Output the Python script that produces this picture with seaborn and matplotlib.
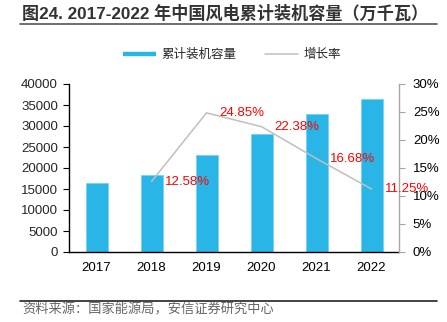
import matplotlib
matplotlib.use("Agg")
import matplotlib.pyplot as plt
from matplotlib.lines import Line2D
from matplotlib.ticker import FuncFormatter, FixedLocator
import seaborn as sns
import pandas as pd

# Cumulative installed wind power capacity in China (10,000 kW)
years = ["2017", "2018", "2019", "2020", "2021", "2022"]
capacity = [16367, 18426, 23005, 28153, 32848, 36544]
# Year-on-year growth (%)
rate_years = ["2018", "2019", "2020", "2021", "2022"]
rates = [12.58, 24.85, 22.38, 16.68, 11.25]

title = "图24. 2017-2022 年中国风电累计装机容量（万千瓦）"
bar_label = "累计装机容量"
line_label = "增长率"
source = "资料来源：国家能源局，安信证券研究中心"

BAR_COLOR = "#29B6E6"
LINE_COLOR = "#BFBFBF"

sns.set_theme(style="white")
plt.rcParams["font.family"] = ["Liberation Sans", "Noto Sans CJK SC", "DejaVu Sans"]

W, H = 447, 322
fig = plt.figure(figsize=(W / 100, H / 100), dpi=100)
ax = fig.add_axes([69 / W, 1 - 252 / H, 330 / W, 168 / H])

df = pd.DataFrame({"year": years, "capacity": capacity})
sns.barplot(data=df, x="year", y="capacity", color=BAR_COLOR, saturation=1,
            width=0.4, ax=ax, edgecolor="#6FD0F2", linewidth=0.5)

ax2 = ax.twinx()
rate_x = [years.index(y) for y in rate_years]
sns.lineplot(x=rate_x, y=rates, ax=ax2, color=LINE_COLOR, lw=1.1)
for x, r in zip(rate_x, rates):
    ax2.annotate(f"{r:.2f}%", (x, r), xytext=(9.5, 0), textcoords="offset points",
                 ha="left", va="center", color="#FF0000", fontsize=9.5, zorder=5,
                 annotation_clip=False)

ax.set_xlim(-0.5, len(years) - 0.5)
ax.set_ylim(0, 40000)
ax.set_yticks(range(0, 40001, 5000))
ax2.set_ylim(0, 30)
ax2.set_yticks(range(0, 31, 5))
ax2.yaxis.set_major_formatter(FuncFormatter(lambda v, p: f"{v:.0f}%"))

ax.set_xlabel("")
ax.set_ylabel("")
ax2.set_ylabel("")

for s in ["top", "right"]:
    ax.spines[s].set_visible(False)
for s in ["top", "left", "bottom"]:
    ax2.spines[s].set_visible(False)
ax.spines["left"].set_color("black")
ax.spines["bottom"].set_color("black")
ax.spines["left"].set_linewidth(1.0)
ax.spines["bottom"].set_linewidth(1.0)
ax2.spines["right"].set_color("#A6A6A6")
ax2.spines["right"].set_linewidth(1.0)

# category labels at centres, tick marks at category boundaries
ax.tick_params(axis="x", which="major", length=0, pad=7, labelsize=9.5, colors="black")
ax.xaxis.set_minor_locator(FixedLocator([i - 0.5 for i in range(len(years) + 1)]))
ax.tick_params(axis="x", which="minor", length=4, width=0.8, color="black", direction="out")
ax.tick_params(axis="y", length=4, width=0.8, direction="out", color="black",
               labelsize=9.5, pad=4, left=True)
ax2.tick_params(axis="y", length=4, width=0.8, direction="out", color="#A6A6A6",
                labelsize=9.5, pad=6, right=True, labelcolor="black")

legend_handles = [
    Line2D([], [], color=BAR_COLOR, lw=3.2, solid_capstyle="butt"),
    Line2D([], [], color=LINE_COLOR, lw=1.1),
]
fig.legend(legend_handles, [bar_label, line_label], loc="center",
           bbox_to_anchor=(232 / W, 1 - 55 / H), ncol=2, frameon=False,
           fontsize=9, handlelength=2.6, handletextpad=0.45, columnspacing=2.3)

fig.text(22 / W, 1 - 13 / H, title, fontsize=12.3, fontweight="bold",
         ha="left", va="center", color="#333333")
fig.add_artist(Line2D([20 / W, 437 / W], [1 - 24 / H] * 2, color="#555555", lw=1.2))
fig.add_artist(Line2D([20 / W, 437 / W], [1 - 301 / H] * 2, color="#222222", lw=1.2))
fig.text(22 / W, 1 - 310 / H, source, fontsize=9.5, ha="left", va="center",
         color="#666666")

fig.savefig("out.png", dpi=100)
